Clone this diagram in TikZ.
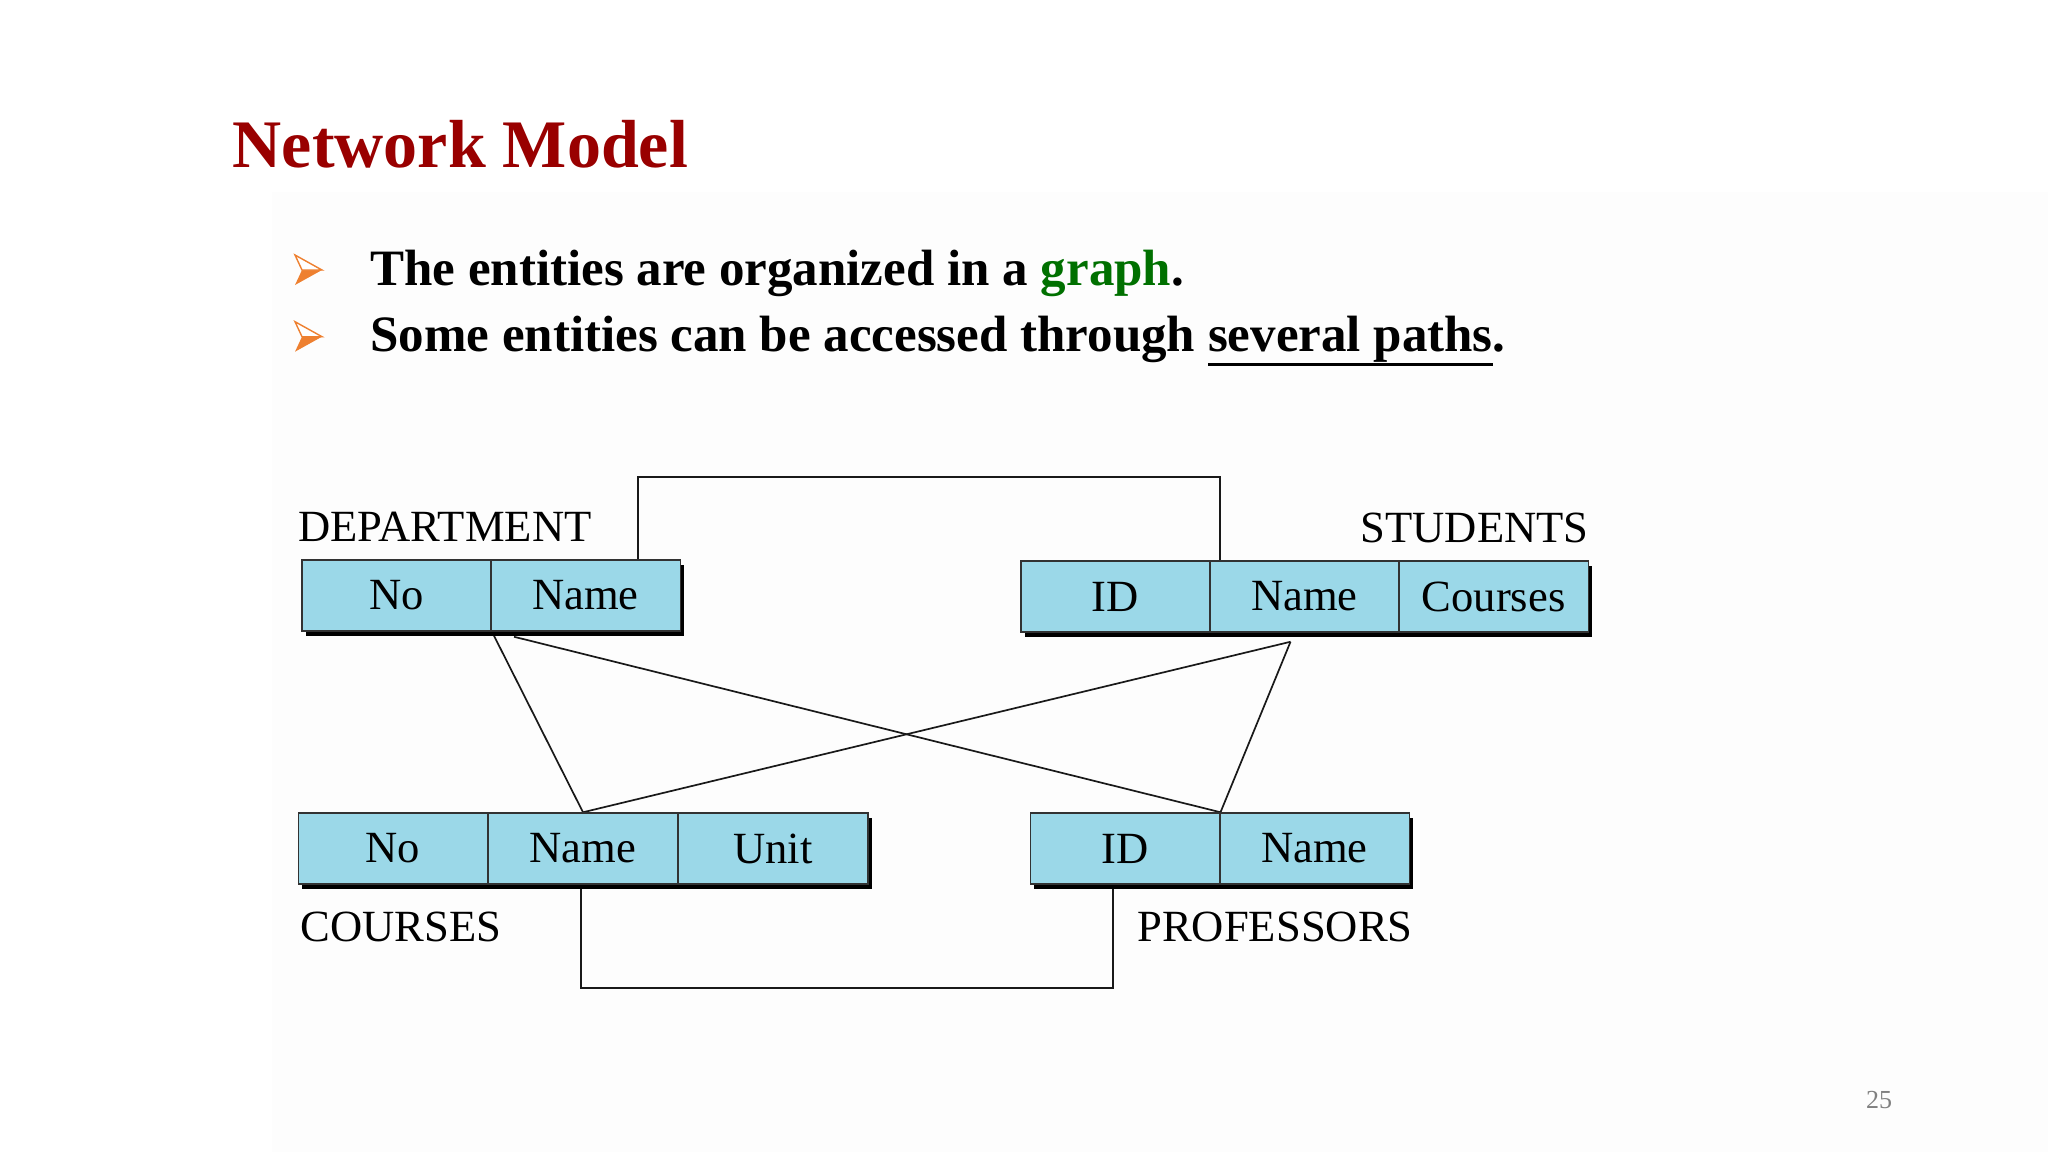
\documentclass[tikz,border=0pt]{standalone}
\usepackage{fontspec}
\setmainfont{Liberation Serif}
\usetikzlibrary{shadows,calc}
\definecolor{titlered}{RGB}{153,0,0}
\definecolor{graphgreen}{RGB}{0,112,0}
\definecolor{bulletorange}{RGB}{238,128,48}
\definecolor{cellblue}{RGB}{155,216,232}
\definecolor{cellborder}{RGB}{50,50,50}
\definecolor{pagegray}{RGB}{128,128,128}
\definecolor{panel}{RGB}{253,253,253}
\newcommand\myul[1]{\setbox0\hbox{#1}\rlap{\rule[-7.1pt]{\wd0}{1.5pt}}\box0}
\pgfdeclarelayer{background}
\pgfdeclarelayer{lines}
\pgfsetlayers{background,lines,main}
\begin{document}
\begin{tikzpicture}[x=0.5pt,y=-0.5pt,
  cell/.style={draw=cellborder, line width=0.75pt, fill=cellblue,
    minimum width=94.75pt, minimum height=35.5pt, inner sep=0pt,
    font=\fontsize{22.3}{26}\selectfont,
    general shadow={fill=black, shadow xshift=2pt, shadow yshift=-2.5pt}},
  lbl/.style={inner sep=0pt, font=\fontsize{22.3}{26}\selectfont},
  link/.style={draw=black!90, line width=0.85pt},
  btext/.style={inner sep=0pt, anchor=base west, font=\fontsize{25.5}{30}\selectfont\bfseries},
  arrowfill/.style={fill=bulletorange},
  arrowline/.style={draw=bulletorange, line width=0.7pt, fill=white, line join=miter}]
\useasboundingbox (0,0) rectangle (2048,1152);
\begin{pgfonlayer}{background}
  \fill[white] (0,0) rectangle (2048,1152);
  \fill[panel] (272,192) rectangle (2048,1152);
\end{pgfonlayer}

% title
\node[anchor=base west, inner sep=0pt, text=titlered, font=\fontsize{34}{40}\selectfont\bfseries] (title) at (232.5,167) {Network Model};

% bullets
\foreach \dy in {0,66.7}{
  \begin{scope}[shift={(0,\dy)}]
    \fill[arrowfill] (302,270) -- (322,270) -- (295,285) -- cycle;
    \draw[arrowline] (295,255) -- (322,270) -- (302,270) -- cycle;
  \end{scope}
}
\node[btext] (b1) at (370,285) {The entities are organized in a \textcolor{graphgreen}{graph}.};
\node[btext] (b2) at (370,351.7) {Some entities can be accessed through \myul{several paths}.};

% DEPARTMENT
\node[lbl, anchor=base west] (ldept) at (298,541) {DEPARTMENT};
\node[cell] (dno) at (396.5,595.5) {No};
\node[cell] (dname) at (585.5,595.5) {Name};

% STUDENTS
\node[lbl, anchor=base east] (lstud) at (1589,542) {STUDENTS};
\node[cell] (sid) at (1115.5,596.5) {ID};
\node[cell] (sname) at (1304.5,596.5) {Name};
\node[cell] (scourses) at (1493.5,596.5) {Courses};

% COURSES
\node[cell] (cno) at (393,848.5) {No};
\node[cell] (cname) at (583,848.5) {Name};
\node[cell] (cunit) at (773,848.5) {Unit};
\node[lbl, anchor=base west] (lcourses) at (300,941) {COURSES};

% PROFESSORS
\node[cell] (pid) at (1125,848.5) {ID};
\node[cell] (pname) at (1314.5,848.5) {Name};
\node[lbl, anchor=base east] (lprof) at (1413,941) {PROFESSORS};

% page number
\node[anchor=base, inner sep=0pt, text=pagegray, font=\fontsize{13}{15}\selectfont] (pg) at (1879,1108) {25};

% connectors
\coordinate (t1) at (638,477);
\coordinate (t2) at (1220,477);
\coordinate (bb1) at (581,988);
\coordinate (bb2) at (1113,988);
\coordinate (dstart) at ($(dno.south east)+(2,4)$);
\coordinate (dstart2) at ($(dname.south west)+(24,5)$);
\coordinate (sapex) at ($(sname.south)+(-14,9)$);
\begin{pgfonlayer}{lines}
  \draw[link] (dname.north -| t1) -- (t1) -- (t2) -- (sname.north -| t2);
  \draw[link] (cname.south -| bb1) -- (bb1) -- (bb2) -- (pid.south -| bb2);
  \draw[link] (dstart) -- (cname.north);
  \draw[link] (dstart2) -- (pid.north east);
  \draw[link] (sapex) -- (cname.north);
  \draw[link] (sapex) -- (pid.north east);
\end{pgfonlayer}
\end{tikzpicture}
\end{document}
